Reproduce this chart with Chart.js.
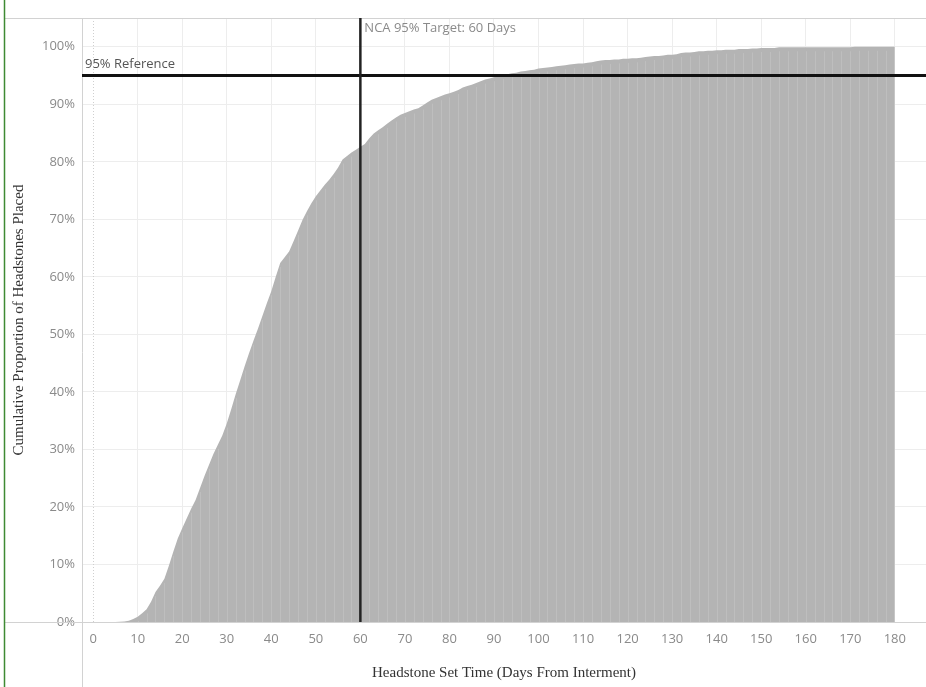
<!DOCTYPE html>
<html>
<head>
<meta charset="utf-8">
<script src="https://cdn.jsdelivr.net/npm/chart.js@4.4.1/dist/chart.umd.min.js"></script>
<style>
    html, body { margin: 0; padding: 0; background: #fff; }
    #chart { display: block; }
</style>
</head>
<body>
<canvas id="chart" width="926" height="687"></canvas>
<script>
// Days after interment (1..180)
const days = Array.from({ length: 180 }, (_, i) => i + 1);

// Cumulative share of headstones placed (%)
const cumulativePct = [
    0, 0, 0, 0, 0, 0.05, 0.1, 0.2, 0.5, 0.9,
    1.5, 2.2, 3.5, 5.2, 6.3, 7.5, 9.8, 12.2, 14.5, 16.3,
    18.0, 19.7, 21.2, 23.3, 25.4, 27.3, 29.2, 30.8, 32.4, 34.5,
    37.0, 39.6, 42.0, 44.4, 46.7, 48.9, 51.0, 53.2, 55.4, 57.5,
    60.0, 62.4, 63.4, 64.4, 66.2, 68.0, 69.9, 71.4, 72.8, 74.0,
    75.0, 76.0, 76.9, 77.9, 79.0, 80.4, 81.0, 81.6, 82.1, 82.6,
    83.1, 84.1, 84.9, 85.5, 86.0, 86.6, 87.2, 87.7, 88.2, 88.5,
    88.8, 89.1, 89.3, 89.8, 90.3, 90.8, 91.1, 91.4, 91.7, 91.9,
    92.2, 92.5, 92.9, 93.2, 93.4, 93.7, 94.0, 94.3, 94.5, 94.7,
    94.9, 95.1, 95.2, 95.4, 95.5, 95.7, 95.8, 95.9, 96.0, 96.2,
    96.3, 96.4, 96.5, 96.6, 96.7, 96.8, 96.9, 97.0, 97.1, 97.1,
    97.2, 97.3, 97.5, 97.6, 97.7, 97.7, 97.8, 97.8, 97.9, 97.9,
    98.0, 98.0, 98.1, 98.2, 98.3, 98.4, 98.4, 98.5, 98.6, 98.6,
    98.7, 98.9, 99.0, 99.0, 99.1, 99.2, 99.2, 99.3, 99.3, 99.4,
    99.4, 99.5, 99.5, 99.5, 99.6, 99.6, 99.6, 99.7, 99.7, 99.8,
    99.8, 99.8, 99.8, 99.9, 99.9, 99.9, 99.9, 99.9, 99.9, 99.9,
    99.9, 99.9, 99.9, 99.9, 99.9, 99.9, 99.9, 99.9, 99.9, 99.9,
    100, 100, 100, 100, 100, 100, 100, 100, 100, 100,
];

const xTickValues = [0, 10, 20, 30, 40, 50, 60, 70, 80, 90, 100, 110, 120, 130, 140, 150, 160, 170, 180];
const yTickValues = [0, 10, 20, 30, 40, 50, 60, 70, 80, 90, 100];

const targetDay = 60;
const targetLabel = 'NCA 95% Target: 60 Days';
const referencePct = 95;
const referenceLabel = '95% Reference';

const tickFont = { family: '"Open Sans", sans-serif', size: 13 };
const titleFont = { family: '"Liberation Serif", "DejaVu Serif", serif', size: 15 };

const framePlugin = {
    id: 'frame',
    beforeDraw(chart) {
        const { ctx } = chart;
        ctx.save();
        ctx.fillStyle = '#ffffff';
        ctx.fillRect(0, 0, chart.width, chart.height);
        ctx.restore();
    },
    beforeDatasetsDraw(chart) {
        // dotted zero line
        const { ctx, chartArea: a, scales } = chart;
        const x0 = Math.round(scales.x.getPixelForValue(0)) + 0.5;
        ctx.save();
        ctx.strokeStyle = '#cfcfcf';
        ctx.lineWidth = 1;
        ctx.setLineDash([1, 2]);
        ctx.beginPath();
        ctx.moveTo(x0, a.top);
        ctx.lineTo(x0, a.bottom);
        ctx.stroke();
        ctx.restore();
    },
    afterDatasetsDraw(chart) {
        const { ctx, chartArea: a, scales } = chart;
        ctx.save();

        // faint seams between daily marks, like the original
        ctx.strokeStyle = 'rgba(255,255,255,0.14)';
        ctx.lineWidth = 1;
        ctx.beginPath();
        days.forEach((d, i) => {
            if (d % 2 !== 0 || cumulativePct[i] <= 0) return;
            const x = Math.round(scales.x.getPixelForValue(d)) + 0.5;
            ctx.moveTo(x, a.bottom);
            ctx.lineTo(x, scales.y.getPixelForValue(cumulativePct[i]) + 4);
        });
        ctx.stroke();

        // pane borders and axis lines
        ctx.strokeStyle = '#d2d2d2';
        ctx.lineWidth = 1;
        ctx.beginPath();
        ctx.moveTo(4, a.top + 0.5);
        ctx.lineTo(chart.width, a.top + 0.5);
        ctx.moveTo(4, a.bottom + 0.5);
        ctx.lineTo(chart.width, a.bottom + 0.5);
        ctx.moveTo(a.left + 0.5, a.top);
        ctx.lineTo(a.left + 0.5, chart.height);
        ctx.stroke();

        // green frame edge on the left
        ctx.strokeStyle = '#3f8a33';
        ctx.lineWidth = 1.5;
        ctx.beginPath();
        ctx.moveTo(4.5, 0);
        ctx.lineTo(4.5, chart.height);
        ctx.stroke();

        // 95% reference line
        const yRef = scales.y.getPixelForValue(referencePct);
        ctx.strokeStyle = '#111111';
        ctx.lineWidth = 3;
        ctx.beginPath();
        ctx.moveTo(a.left, yRef);
        ctx.lineTo(a.right, yRef);
        ctx.stroke();

        // 60 day target line
        const xRef = scales.x.getPixelForValue(targetDay);
        ctx.strokeStyle = '#222222';
        ctx.lineWidth = 2.5;
        ctx.beginPath();
        ctx.moveTo(xRef, a.top);
        ctx.lineTo(xRef, a.bottom);
        ctx.stroke();

        ctx.font = '13px "Open Sans", sans-serif';
        ctx.textBaseline = 'middle';
        ctx.textAlign = 'left';
        ctx.fillStyle = '#555555';
        ctx.fillText(referenceLabel, a.left + 3, yRef - 11);
        ctx.fillStyle = '#8a8a8a';
        ctx.fillText(targetLabel, xRef + 4, a.top + 10);

        ctx.restore();
    },
};

new Chart(document.getElementById('chart').getContext('2d'), {
    type: 'line',
    data: {
        datasets: [
            {
                label: 'Cumulative Proportion',
                data: days.map((d, i) => ({ x: d, y: cumulativePct[i] })),
                backgroundColor: '#b4b4b4',
                borderWidth: 0,
                borderColor: 'rgba(0,0,0,0)',
                fill: 'origin',
                pointRadius: 0,
                tension: 0,
            },
        ],
    },
    options: {
        responsive: false,
        animation: false,
        layout: { padding: { left: 4, top: 18, right: 0, bottom: 0 } },
        plugins: {
            legend: { display: false },
            tooltip: { enabled: false },
        },
        scales: {
            x: {
                type: 'linear',
                min: -2.5,
                max: 187,
                afterBuildTicks: (scale) => {
                    scale.ticks = xTickValues.map((v) => ({ value: v }));
                },
                afterFit: (scale) => {
                    scale.height = 65;
                },
                ticks: {
                    color: '#8a8a8a',
                    font: tickFont,
                    padding: 9,
                    maxRotation: 0,
                    autoSkip: false,
                },
                grid: {
                    drawTicks: false,
                    color: (c) => (c.tick && c.tick.value === 0 ? 'rgba(0,0,0,0)' : '#ededed'),
                },
                border: { display: false },
                title: {
                    display: true,
                    text: 'Headstone Set Time (Days From Interment)',
                    color: '#333333',
                    font: titleFont,
                    padding: { top: 0, bottom: 5 },
                },
            },
            y: {
                min: 0,
                max: 105,
                afterBuildTicks: (scale) => {
                    scale.ticks = yTickValues.map((v) => ({ value: v }));
                },
                afterFit: (scale) => {
                    scale.width = 78;
                },
                ticks: {
                    color: '#8a8a8a',
                    font: tickFont,
                    padding: 7,
                    callback: (v) => v + '%',
                },
                grid: {
                    drawTicks: false,
                    color: (c) => (c.tick && c.tick.value === 0 ? 'rgba(0,0,0,0)' : '#ededed'),
                },
                border: { display: false },
                title: {
                    display: true,
                    text: 'Cumulative Proportion of Headstones Placed',
                    color: '#333333',
                    font: titleFont,
                    padding: { top: 6, bottom: 0 },
                },
            },
        },
    },
    plugins: [framePlugin],
});
</script>
</body>
</html>
